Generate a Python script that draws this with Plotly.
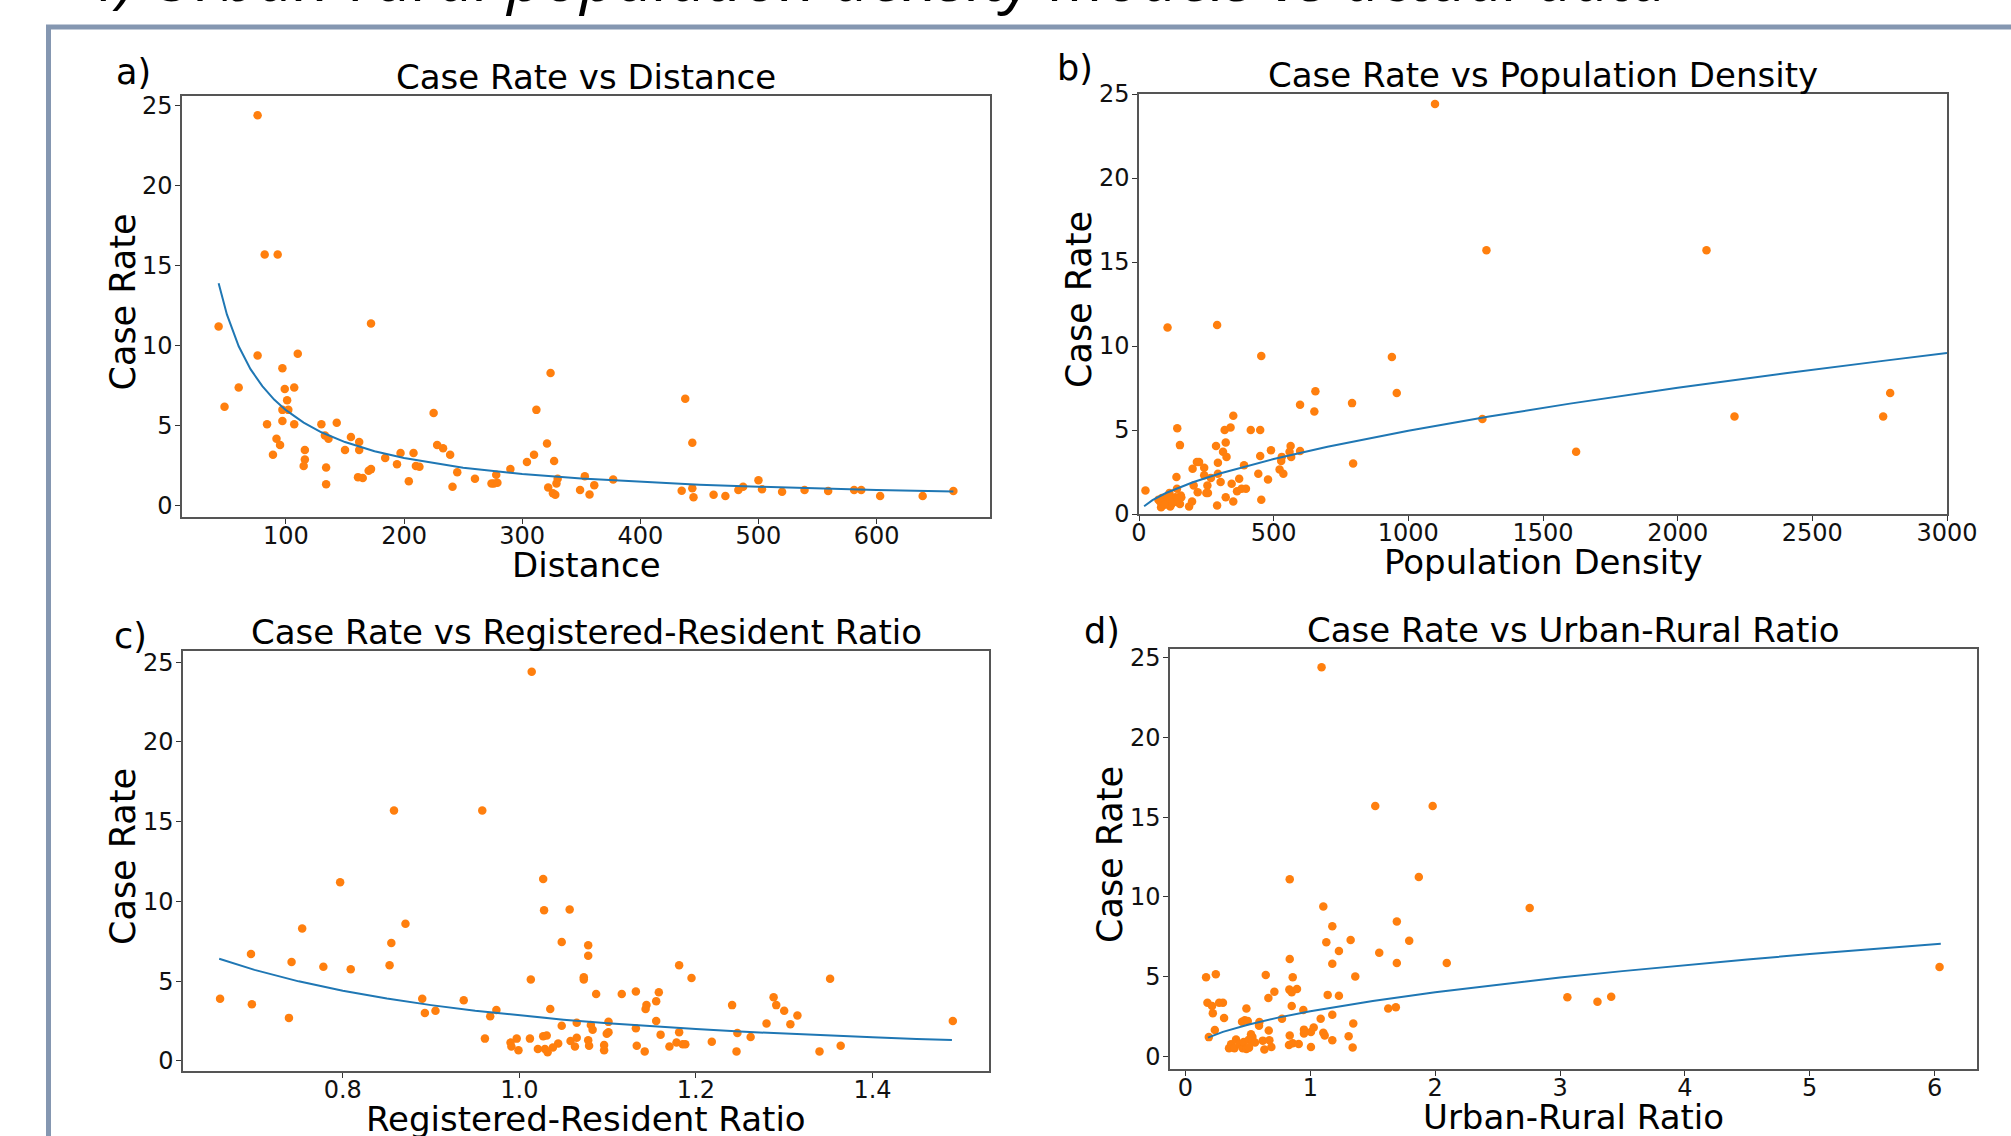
import plotly.graph_objects as go

W, H = 2011, 1136

# ---------------- data ----------------
dist_x = [43, 48, 60, 76, 84, 92, 89, 95, 97, 99, 101, 97, 102, 97, 107, 110, 107, 116, 116, 115,
          130, 133, 136, 134, 134, 143, 150, 155, 162, 162, 161, 165, 170, 172, 172, 184, 194, 197, 204, 208,
          210, 213, 225, 228, 233, 239, 245, 241, 260, 274, 276, 279, 278, 290, 304, 310, 312, 321, 324, 327,
          322, 330, 329, 326, 328, 349, 353, 357, 361, 377, 438, 444, 435, 444, 445, 462, 472, 483, 487, 500,
          503, 520, 539, 559, 581, 587, 603, 639, 665, 76, 82, 93]
dist_y = [11.2, 6.2, 7.4, 9.4, 5.1, 4.2, 3.2, 3.8, 8.6, 7.3, 6.6, 6.0, 6.0, 5.3, 7.4, 9.5, 5.1, 3.5, 2.9, 2.5,
          5.1, 4.4, 4.2, 2.4, 1.35, 5.2, 3.5, 4.3, 4.0, 3.5, 1.8, 1.75, 2.2, 2.3, 11.4, 3.0, 2.6, 3.3, 1.55, 3.3,
          2.5, 2.45, 5.8, 3.8, 3.6, 3.2, 2.1, 1.2, 1.7, 1.4, 1.4, 1.45, 1.95, 2.3, 2.75, 3.2, 6.0, 3.9, 8.3, 2.8,
          1.15, 1.7, 1.4, 0.8, 0.7, 1.0, 1.85, 0.72, 1.3, 1.65, 6.7, 3.95, 0.95, 1.1, 0.55, 0.7, 0.62, 1.0, 1.2, 1.6,
          1.05, 0.88, 1.0, 0.94, 1.0, 1.0, 0.62, 0.62, 0.94, 24.4, 15.7, 15.7]
dist_fit_x = [43, 50, 60, 70, 80, 90, 100, 115, 130, 150, 175, 200, 250, 300, 350, 400, 450, 500, 550, 600, 665]
dist_fit_y = [13.9, 11.96, 9.97, 8.54, 7.48, 6.64, 5.98, 5.20, 4.60, 3.99, 3.42, 2.99, 2.39, 1.99, 1.71, 1.50,
              1.33, 1.20, 1.09, 1.00, 0.90]

dens_x = [24, 106, 290, 454, 939, 655, 957, 598, 651, 791, 1275, 795, 350, 142, 318, 340, 415, 450, 152, 286,
          322, 312, 325, 293, 223, 215, 199, 242, 242, 293, 267, 139, 303, 390, 450, 490, 530, 528, 563, 559,
          565, 598, 522, 536, 443, 479, 454, 372, 344, 364, 381, 397, 350, 322, 290, 254, 250, 256, 218, 203,
          197, 186, 141, 113, 155, 72, 85, 104, 121, 129, 141, 152, 82, 116, 98, 135, 157, 78, 95, 110,
          125, 145, 1099, 1290, 2107, 1623, 2211, 2763, 2789]
dens_y = [1.4, 11.1, 11.25, 9.4, 9.35, 7.3, 7.2, 6.5, 6.1, 6.6, 5.65, 3.0, 5.85, 5.1, 5.0, 5.15, 5.0, 5.0, 4.1, 4.05,
          4.25, 3.7, 3.4, 3.05, 3.1, 3.1, 2.7, 2.75, 2.3, 2.4, 2.15, 2.2, 1.9, 2.9, 3.45, 3.8, 3.4, 3.15, 4.05, 3.7,
          3.4, 3.75, 2.65, 2.4, 2.4, 2.05, 0.85, 2.1, 1.8, 1.35, 1.5, 1.5, 0.75, 1.0, 0.5, 1.7, 1.25, 1.25, 1.3, 1.7,
          0.75, 0.45, 1.5, 1.25, 1.1, 0.85, 0.95, 0.75, 0.6, 0.85, 0.72, 0.6, 0.4, 0.45, 0.7, 1.0, 1.0, 0.75, 0.55, 1.05,
          0.7, 0.9, 24.4, 15.7, 15.7, 3.7, 5.8, 5.8, 7.2]
dens_fit_x = [19, 50, 100, 150, 200, 300, 400, 500, 700, 1000, 1300, 1600, 2000, 2400, 2770, 3000]
dens_fit_y = [0.46, 0.82, 1.25, 1.59, 1.89, 2.41, 2.86, 3.27, 4.00, 4.96, 5.80, 6.57, 7.51, 8.38, 9.13, 9.58]

reg_x = [0.661, 0.696, 0.697, 0.739, 0.742, 0.754, 0.778, 0.797, 0.809, 0.853, 0.855, 0.871, 0.890, 0.893, 0.905,
         0.937, 0.974, 0.967, 0.961, 1.027, 1.028, 1.057, 1.048, 1.013, 1.035, 1.078, 1.078, 1.073, 1.073, 1.087,
         1.048, 1.065, 1.081, 1.083, 1.027, 1.031, 1.058, 1.065, 1.078, 1.079, 1.063, 1.044, 1.038, 1.032, 1.029,
         1.021, 1.012, 0.997, 0.990, 0.991, 0.999,
         1.101, 1.099, 1.101, 1.096, 1.096, 1.116, 1.132, 1.132, 1.133, 1.142, 1.144, 1.143, 1.155, 1.158, 1.155,
         1.160, 1.170, 1.178, 1.181, 1.185, 1.188, 1.181, 1.195, 1.218, 1.241, 1.247, 1.246, 1.262, 1.280, 1.288,
         1.291, 1.300, 1.307, 1.315, 1.340, 1.352, 1.364, 1.491,
         0.858, 0.958, 1.014]
reg_y = [3.9, 6.7, 3.55, 2.7, 6.2, 8.3, 5.9, 11.2, 5.75, 6.0, 7.4, 8.6, 3.9, 3.0, 3.15,
         3.8, 3.2, 2.8, 1.4, 11.4, 9.45, 9.5, 7.45, 5.1, 3.25, 7.25, 6.6, 5.25, 5.1, 4.2,
         2.2, 2.4, 2.25, 1.95, 1.55, 1.6, 1.25, 1.45, 1.3, 0.95, 0.9, 1.1, 0.85, 0.55, 0.75,
         0.75, 1.4, 1.4, 1.15, 0.9, 0.67,
         2.45, 1.7, 1.8, 1.0, 0.67, 4.2, 4.35, 2.05, 0.95, 0.6, 3.5, 3.25, 3.75, 4.3, 2.5,
         1.65, 0.9, 1.15, 1.8, 1.05, 1.05, 6.0, 5.2, 1.2, 3.5, 1.75, 0.6, 1.5, 2.35, 4.0,
         3.5, 3.15, 2.3, 2.85, 0.6, 5.15, 0.95, 2.5,
         15.7, 15.7, 24.4]
reg_fit_x = [0.66, 0.70, 0.75, 0.80, 0.85, 0.90, 0.95, 1.00, 1.05, 1.10, 1.15, 1.20, 1.25, 1.30, 1.35, 1.40, 1.45, 1.49]
reg_fit_y = [6.41, 5.71, 4.99, 4.40, 3.91, 3.50, 3.15, 2.85, 2.59, 2.37, 2.17, 2.00, 1.84, 1.71, 1.59, 1.48, 1.38, 1.31]

urb_x = [0.165, 0.243, 0.176, 0.213, 0.27, 0.30, 0.219, 0.309, 0.235, 0.187,
         0.349, 0.365, 0.392, 0.405, 0.432, 0.459, 0.467, 0.488, 0.525, 0.536, 0.507, 0.533, 0.557, 0.509,
         0.453, 0.475, 0.499, 0.488,
         0.592, 0.589, 0.619, 0.632, 0.672, 0.688, 0.667, 0.643, 0.664, 0.712,
         0.773, 0.835, 0.835, 0.859, 0.832, 0.851, 0.893, 0.851, 0.944, 0.835,
         0.829, 0.859, 0.907, 0.949, 0.949, 1.005, 1.027, 1.005, 1.083, 1.104,
         1.176, 1.128, 1.176, 1.229, 1.323, 1.36, 1.139, 1.229, 1.176, 1.104,
         1.115, 1.176, 1.307, 1.344, 1.339, 1.552, 1.693, 1.693, 1.792, 1.869,
         1.624, 1.685, 2.093, 2.757, 3.059, 3.30, 3.41, 6.04, 1.09, 1.52, 1.98]
urb_y = [4.95, 5.15, 3.35, 3.15, 3.35, 3.35, 2.7, 2.4, 1.65, 1.2,
         0.5, 0.75, 0.5, 1.05, 0.77, 0.5, 0.9, 0.45, 1.38, 1.21, 1.04, 0.94, 0.86, 0.54,
         2.17, 2.26, 2.21, 3.0,
         2.15, 1.92, 0.98, 0.42, 1.0, 0.58, 1.61, 5.1, 3.65, 4.05,
         2.35, 11.1, 6.1, 4.95, 4.18, 4.01, 4.22, 3.15, 2.9, 1.3,
         0.71, 0.82, 0.77, 1.67, 1.42, 1.52, 1.8, 0.58, 2.35, 9.4,
         8.15, 7.15, 5.8, 6.6, 7.3, 5.0, 3.85, 3.8, 2.6, 1.48,
         1.3, 1.0, 1.25, 2.05, 0.55, 6.5, 8.45, 5.85, 7.25, 11.25,
         3.0, 3.07, 5.85, 9.3, 3.7, 3.42, 3.73, 5.6, 24.4, 15.7, 15.7]
urb_fit_x = [0.18, 0.3, 0.5, 0.75, 1.0, 1.25, 1.5, 2.0, 2.5, 3.0, 3.5, 4.0, 4.5, 5.0, 5.5, 6.05]
urb_fit_y = [1.17, 1.53, 1.98, 2.44, 2.82, 3.16, 3.47, 4.02, 4.50, 4.94, 5.34, 5.72, 6.07, 6.41, 6.73, 7.06]

titles = ["Case Rate vs Distance", "Case Rate vs Population Density",
          "Case Rate vs Registered-Resident Ratio", "Case Rate vs Urban-Rural Ratio"]
xlabels = ["Distance", "Population Density", "Registered-Resident Ratio", "Urban-Rural Ratio"]
letters = ["a)", "b)", "c)", "d)"]
slide_title = "4) Urban-rural population density models vs actual data"

# ---------------- layout helpers ----------------
def px(X):
    return X / W

def py(Y):
    return 1 - Y / H

# plot boxes in pixels: (left, right, top, bottom)
boxes = [(182, 990, 96, 517), (1139, 1947, 94, 514), (183, 989, 651, 1071), (1170, 1977, 649, 1069)]
xranges = [[12, 696], [0, 3000], [0.619, 1.532], [-0.124, 6.34]]
yranges = [[-0.69, 25.6], [0, 25], [-0.63, 25.7], [-0.8, 25.55]]
xticks = [[100, 200, 300, 400, 500, 600], [0, 500, 1000, 1500, 2000, 2500, 3000],
          [0.8, 1.0, 1.2, 1.4], [0, 1, 2, 3, 4, 5, 6]]
xtickfmt = [None, None, ".1f", None]

series = [(dist_x, dist_y, dist_fit_x, dist_fit_y), (dens_x, dens_y, dens_fit_x, dens_fit_y),
          (reg_x, reg_y, reg_fit_x, reg_fit_y), (urb_x, urb_y, urb_fit_x, urb_fit_y)]

FONT = "DejaVu Sans"
fig = go.Figure()
annotations = []
layout = {}
for i in range(4):
    n = "" if i == 0 else str(i + 1)
    sx, sy, fx, fy = series[i]
    fig.add_trace(go.Scatter(x=sx, y=sy, mode="markers", xaxis="x" + n, yaxis="y" + n,
                             marker=dict(color="#ff7f0e", size=8.5, line=dict(width=0)),
                             showlegend=False, hoverinfo="skip"))
    fig.add_trace(go.Scatter(x=fx, y=fy, mode="lines", xaxis="x" + n, yaxis="y" + n,
                             line=dict(color="#1f77b4", width=2), showlegend=False, hoverinfo="skip"))
    l, r, t, b = boxes[i]
    common = dict(showline=True, linecolor="#555555", linewidth=1.5, mirror=True, showgrid=False,
                  zeroline=False, ticks="outside", ticklen=5, tickwidth=1.3, tickcolor="#333333",
                  automargin=False, tickfont=dict(family=FONT, size=24, color="#111111"))
    xa = dict(common, domain=[px(l), px(r)], range=xranges[i], tickvals=xticks[i], anchor="y" + n,
              ticklabelstandoff=-9)
    if xtickfmt[i]:
        xa["tickformat"] = xtickfmt[i]
    ya = dict(common, domain=[py(b), py(t)], range=yranges[i], tickvals=[0, 5, 10, 15, 20, 25],
              anchor="x" + n, ticklabelstandoff=-2)
    layout["xaxis" + n] = xa
    layout["yaxis" + n] = ya
    cx = (l + r) / 2
    annotations.append(dict(text=titles[i], x=px(cx), y=py(t - 19), xref="paper", yref="paper",
                            showarrow=False, xanchor="center", yanchor="middle",
                            font=dict(family=FONT, size=34, color="black")))
    annotations.append(dict(text=xlabels[i], x=px(cx), y=py(b + 48), xref="paper", yref="paper",
                            showarrow=False, xanchor="center", yanchor="middle",
                            font=dict(family=FONT, size=34, color="black")))
    annotations.append(dict(text="Case Rate", x=px(l - 60), y=py((t + b) / 2 - 4), xref="paper",
                            yref="paper", showarrow=False, xanchor="center", yanchor="middle",
                            textangle=-90, font=dict(family=FONT, size=35, color="black")))

letter_pos = [(133, 72), (1075, 68), (130, 636), (1102, 631)]
for i, (lx, ly) in enumerate(letter_pos):
    annotations.append(dict(text=letters[i], x=px(lx), y=py(ly), xref="paper", yref="paper",
                            showarrow=False, xanchor="center", yanchor="middle",
                            font=dict(family=FONT, size=35, color="black")))

annotations.append(dict(text="<i>" + slide_title + "</i>", x=px(80), y=py(22), xref="paper", yref="paper",
                        showarrow=False, xanchor="left", yanchor="bottom",
                        font=dict(family="Open Sans", size=64, color="black")))

shapes = [dict(type="rect", xref="paper", yref="paper", x0=px(48.5), x1=px(2200), y0=py(27), y1=py(1300),
               line=dict(color="#8597b1", width=5), fillcolor="rgba(0,0,0,0)", layer="below")]

fig.update_layout(width=W, height=H, margin=dict(l=0, r=0, t=0, b=0, pad=0, autoexpand=False),
                  paper_bgcolor="white", plot_bgcolor="white", annotations=annotations, shapes=shapes,
                  **layout)

fig.write_html("out.html", config={"displayModeBar": False},
               post_script="document.body.style.margin='0';document.body.style.overflow='hidden';")
